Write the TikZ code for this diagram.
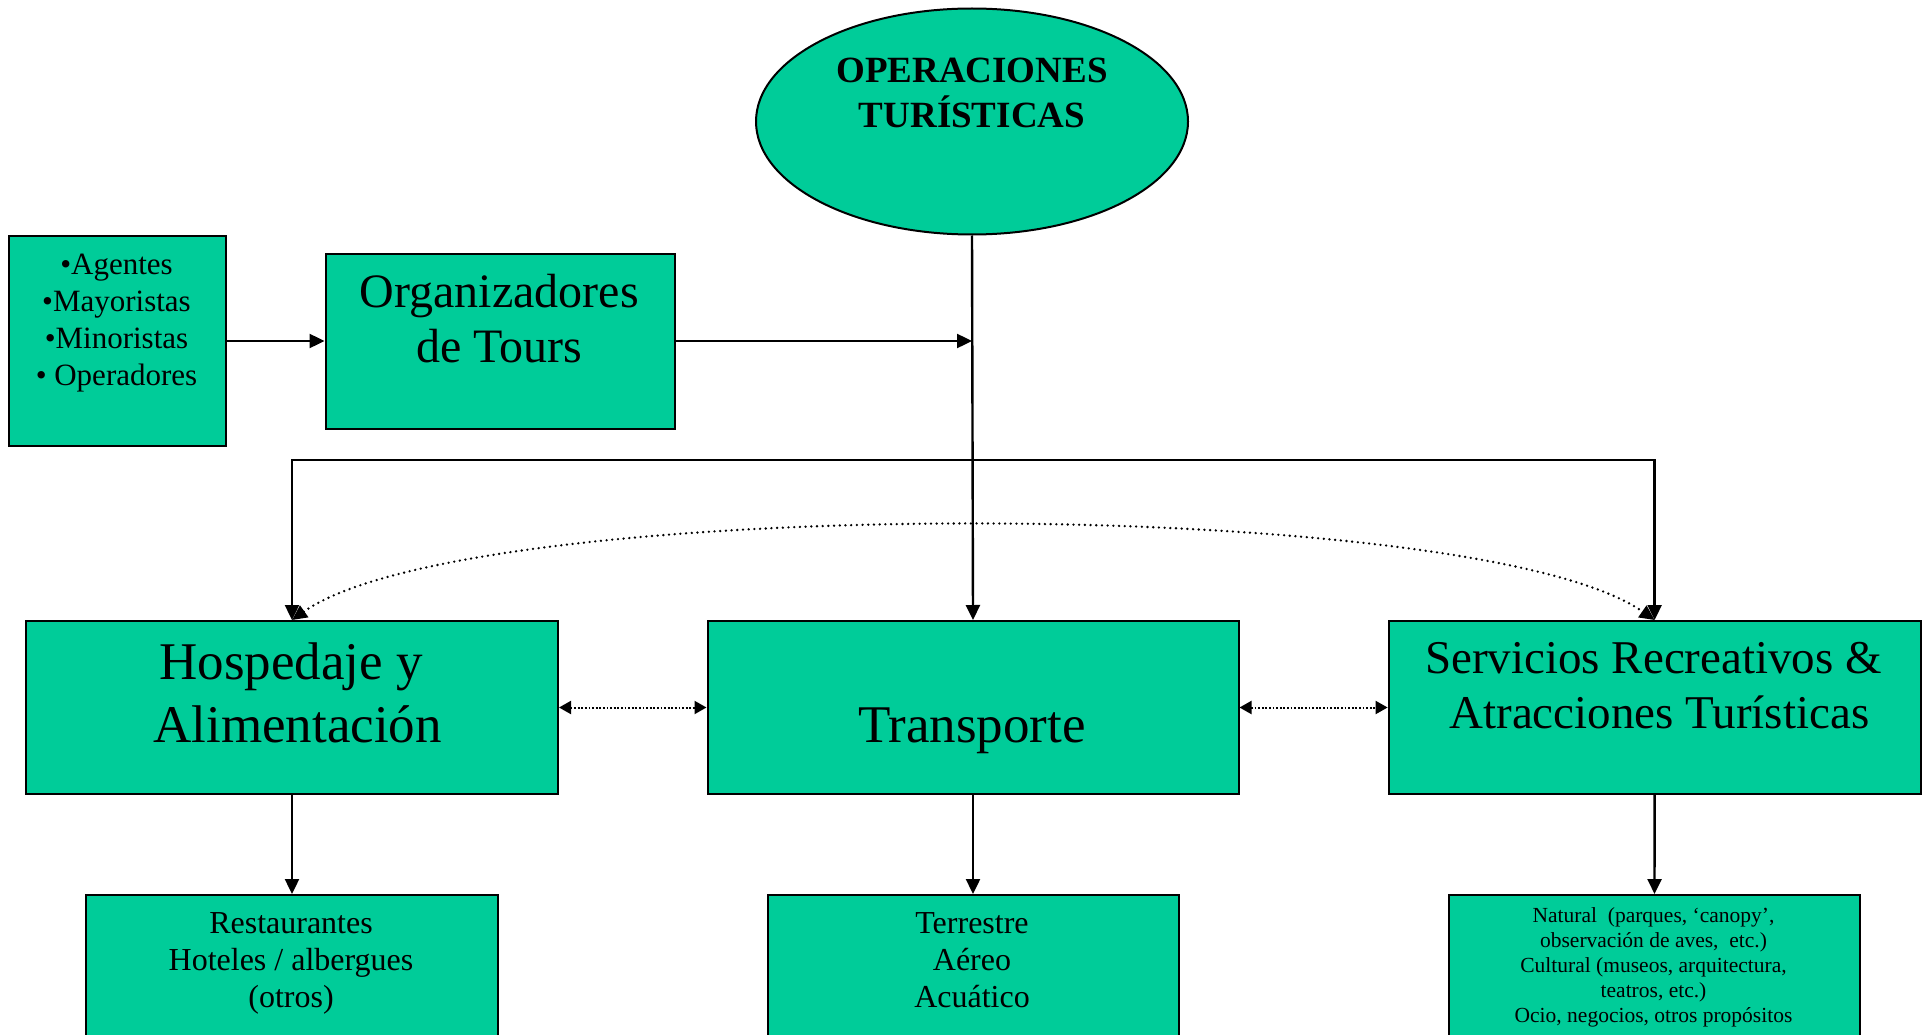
\documentclass[tikz,border=0pt]{standalone}
\usepackage{fontspec}
\setmainfont{Liberation Serif}
\usetikzlibrary{arrows.meta,shapes.geometric}
\definecolor{boxgreen}{HTML}{00CC99}
\newcommand{\setfs}[2]{\fontsize{#1}{#2}\selectfont}
\newcommand{\mylines}[1]{\begin{tabular}[b]{@{}c@{}}#1\end{tabular}}
\begin{document}
\begin{tikzpicture}[x=1pt,y=-1pt,
  box/.style={draw=black, fill=boxgreen, line width=2pt, inner sep=0pt, anchor=north west, rectangle},
  txt/.style={inner sep=0pt, anchor=base},
  conn/.style={line width=2.4pt, -{Triangle[length=15pt,width=14pt]}},
  dotsmall/.style={line width=2pt, dash pattern=on 1.8pt off 1.8pt, {Triangle[length=12pt,width=13pt]}-{Triangle[length=12pt,width=13pt]}},
  dotcurve/.style={line width=2.6pt, line cap=round, dash pattern=on 0pt off 5.7pt, {Triangle[length=15pt,width=14pt]}-{Triangle[length=15pt,width=14pt]}}]

\clip (0,0) rectangle (1924,1035);
\fill[white] (0,0) rectangle (1924,1035);

% top ellipse
\node[draw=black, fill=boxgreen, line width=2pt, ellipse, minimum width=432pt, minimum height=226pt, inner sep=0pt] (ops) at (972,121.5) {};
\node[txt, font={\setfs{37}{45}\bfseries}] (ops-t) at (972,128) {\mylines{OPERACIONES\\TURÍSTICAS}};

% left boxes
\node[box, minimum width=216.5pt, minimum height=210pt] (agents) at (8,235) {};
\node[txt, font={\setfs{31}{37}}] (agents-t) at (116.5,385) {\mylines{•Agentes\\•Mayoristas\\•Minoristas\\• Operadores}};

\node[box, minimum width=349.5pt, minimum height=175pt] (org) at (324.5,252.5) {};
\node[txt, font={\setfs{48}{55}}] (org-t) at (499.25,362) {\mylines{Organizadores\\de Tours}};

% middle row
\node[box, minimum width=532pt, minimum height=173pt] (hosp) at (25,620) {};
\node[txt, font={\setfs{53}{63}}] (hosp-t) at (291,742) {\mylines{Hospedaje y\\\hspace*{0.25em}Alimentación}};

\node[box, minimum width=531pt, minimum height=173pt] (transp) at (706.5,620) {};
\node[txt, font={\setfs{53}{63}}] (transp-t) at (972,742) {Transporte};

\node[box, minimum width=532pt, minimum height=173pt] (serv) at (1387.6,620) {};
\node[txt, font={\setfs{47}{55}}] (serv-t) at (1653.5,728) {\mylines{Servicios Recreativos \&\\\hspace*{0.25em}Atracciones Turísticas}};

% bottom row
\node[box, minimum width=412pt, minimum height=170pt] (rest) at (85,894) {};
\node[txt, font={\setfs{32}{37}}] (rest-t) at (291,1007) {\mylines{Restaurantes\\Hoteles / albergues\\(otros)}};

\node[box, minimum width=411pt, minimum height=170pt] (terr) at (766.5,894) {};
\node[txt, font={\setfs{32}{37}}] (terr-t) at (972,1007) {\mylines{Terrestre\\Aéreo\\Acuático}};

\node[box, minimum width=411.6pt, minimum height=170pt] (nat) at (1447.7,894) {};
\node[txt, font={\setfs{21.5}{24.8}}] (nat-t) at (1653.5,1022) {\mylines{Natural~~(parques, ‘canopy’,\\observación de aves,~~etc.)\\Cultural (museos, arquitectura,\\teatros, etc.)\\Ocio, negocios, otros propósitos}};

% connectors
\coordinate (j) at (org.east -| ops.south);
\coordinate (br) at (972,460);
\draw[conn] (agents.east) -- (org.west);
\draw[conn] (org.east) -- (j);
\draw[conn] (ops.south) -- (transp.north);
\draw[conn] (br) -| (hosp.north);
\draw[conn] (br) -| (serv.north);
\draw[conn] (hosp.south) -- (rest.north);
\draw[conn] (transp.south) -- (terr.north);
\draw[conn] (serv.south) -- (nat.north);
\draw[dotsmall] (hosp.east) -- (transp.west);
\draw[dotsmall] (transp.east) -- (serv.west);
\draw[dotcurve] (hosp.north) .. controls (470,494) and (1475,494) .. (serv.north);
\end{tikzpicture}
\end{document}
